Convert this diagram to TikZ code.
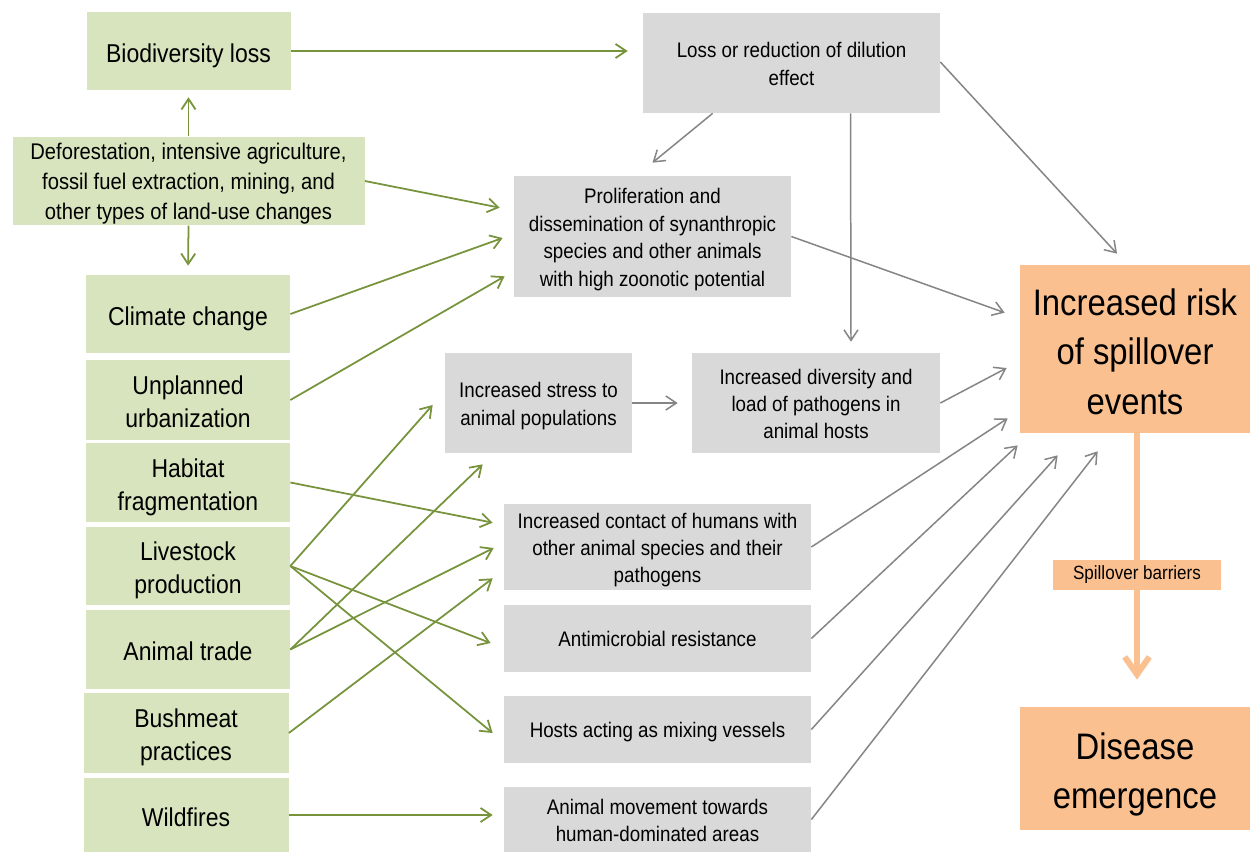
\documentclass[tikz,border=0pt]{standalone}
\usepackage{fontspec}
\setmainfont{Liberation Sans}[FakeStretch=0.89]
\usetikzlibrary{arrows.meta,calc}
\definecolor{gfill}{HTML}{D7E4BD}
\definecolor{gline}{HTML}{77933C}
\definecolor{kfill}{HTML}{D9D9D9}
\definecolor{kline}{HTML}{858585}
\definecolor{ofill}{HTML}{FAC090}
\newdimen\pxu \pxu=0.02cm
\def\sA{1.1em}\def\sD{0.27em}
\newcommand\fs{\rule{0pt}{\sA}}
\newcommand\ls{\rule[-\sD]{0pt}{\sD}}
\begin{document}
\begin{tikzpicture}[x=0.02cm,y=-0.02cm,
  gbox/.style={fill=gfill, inner sep=0pt, align=center, font=\fontsize{14.7}{18.8}\selectfont\def\sA{1.14em}\def\sD{0.27em}},
  dbox/.style={fill=gfill, inner sep=0pt, align=center, font=\fontsize{12.9}{16.9}\selectfont\def\sA{1.02em}\def\sD{0.27em}},
  kbox/.style={fill=kfill, inner sep=0pt, align=center, font=\fontsize{12}{15.6}\selectfont\def\sA{1.09em}\def\sD{0.29em}},
  obox/.style={fill=ofill, inner sep=0pt, align=center, font=\fontsize{21}{28}\selectfont\def\sA{1.1em}\def\sD{0.24em}},
  sbox/.style={fill=ofill, inner sep=0pt, align=center, font=\fontsize{10.9}{13}\selectfont},
  garr/.style={draw=gline, line width=1pt, -{Straight Barb[length=6pt,width=8pt]}},
  karr/.style={draw=kline, line width=0.85pt, -{Straight Barb[length=6pt,width=8pt]}},
  oarr/.style={draw=ofill, line width=3.4pt, -{Straight Barb[length=10pt,width=14pt]}}]
\fill[white] (0,0) rectangle (1250,852);
\useasboundingbox (0,0) rectangle (1250,852);
% green causes
\node[gbox, minimum width=204\pxu, minimum height=78\pxu] (bio) at (188.5,51) {\fs Biodiversity loss\ls};
\node[dbox, minimum width=352\pxu, minimum height=88\pxu] (defo) at (188.5,181) {\fs Deforestation, intensive agriculture,\\fossil fuel extraction, mining, and\\other types of land-use changes\ls};
\node[gbox, minimum width=204\pxu, minimum height=78\pxu] (clim) at (188,314) {\fs Climate change\ls};
\node[gbox, minimum width=204\pxu, minimum height=80\pxu] (urb) at (188,400) {\fs Unplanned\\urbanization\ls};
\node[gbox, minimum width=204\pxu, minimum height=79\pxu] (hab) at (188,482.5) {\fs Habitat\\fragmentation\ls};
\node[gbox, minimum width=204\pxu, minimum height=78\pxu] (live) at (188,566) {\fs Livestock\\production\ls};
\node[gbox, minimum width=204\pxu, minimum height=79\pxu] (trade) at (188,649.5) {\fs Animal trade\ls};
\node[gbox, minimum width=205\pxu, minimum height=80\pxu] (bush) at (186,733) {\fs Bushmeat\\practices\ls};
\node[gbox, minimum width=205\pxu, minimum height=74\pxu] (wild) at (186,815) {\fs Wildfires\ls};
% grey mechanisms
\node[kbox, minimum width=297\pxu, minimum height=100\pxu] (dil) at (791.5,63) {\fs Loss or reduction of dilution\\effect\ls};
\node[kbox, minimum width=277\pxu, minimum height=121\pxu] (prol) at (652.5,236.5) {\fs Proliferation and\\dissemination of synanthropic\\species and other animals\\with high zoonotic potential\ls};
\node[kbox, minimum width=187\pxu, minimum height=100\pxu] (stress) at (538.5,403) {\fs Increased stress to\\animal populations\ls};
\node[kbox, minimum width=248\pxu, minimum height=100\pxu] (div) at (816,403) {\fs Increased diversity and\\load of pathogens in\\animal hosts\ls};
\node[kbox, minimum width=307\pxu, minimum height=86\pxu] (contact) at (657.5,547) {\fs Increased contact of humans with\\other animal species and their\\pathogens\ls};
\node[kbox, minimum width=307\pxu, minimum height=67\pxu] (amr) at (657.5,638.5) {\fs Antimicrobial resistance\ls};
\node[kbox, minimum width=307\pxu, minimum height=67\pxu] (mix) at (657.5,729.5) {\fs Hosts acting as mixing vessels\ls};
\node[kbox, minimum width=307\pxu, minimum height=65\pxu] (move) at (657.5,819.5) {\fs Animal movement towards\\human-dominated areas\ls};
% orange outcomes
\node[obox, minimum width=230\pxu, minimum height=168\pxu] (risk) at (1135,349) {\fs Increased risk\\of spillover\\events\ls};
\node[obox, minimum width=230\pxu, minimum height=123\pxu] (dis) at (1135,768.5) {\fs Disease\\emergence\ls};
\draw[oarr, shorten >=27\pxu] ($(risk.south)+(2,0)$) -- ($(dis.north)+(2,0)$);
\node[sbox, minimum width=168\pxu, minimum height=30\pxu] (barrier) at (1137,575) {Spillover barriers};
% green arrows
\draw[garr, shorten >=15\pxu] (bio.east) -- (bio.east -| dil.west);
\draw[garr, shorten >=7\pxu] (defo.north) -- (bio.south);
\draw[garr, shorten >=9\pxu] (defo.south) -- (clim.north);
\draw[garr] (defo.east) -- ($(prol.north west)+(-14,32)$);
\draw[garr] (clim.east) -- ($(prol.west)+(-11,1.5)$);
\draw[garr] (urb.east) -- ($(prol.south west)+(-9,-21)$);
\draw[garr] (hab.east) -- ($(contact.north west)+(-11,19)$);
\draw[garr] (live.east) -- ($(stress.west)+(-12,2)$);
\draw[garr] (live.east) -- ($(amr.west)+(-13,4.5)$);
\draw[garr] (live.east) -- ($(mix.west)+(-11,3.5)$);
\draw[garr] (trade.east) -- ($(stress.south west)+(38,11)$);
\draw[garr] (trade.east) -- ($(contact.west)+(-10,1)$);
\draw[garr] (bush.east) -- ($(contact.south west)+(-11,-12)$);
\draw[garr] (wild.east) -- ($(wild.east -| move.west)+(-11,0)$);
% grey arrows
\draw[karr] ($(dil.south west)+(70,0)$) -- ($(prol.north)+(0,-13)$);
\draw[karr] ($(dil.south)+(59,0)$) -- ($(div.north)+(35,-11)$);
\draw[karr] ($(dil.east)+(0,-1)$) -- ($(risk.north)+(-18,-11)$);
\draw[karr] (prol.east) -- ($(risk.north west)+(-15,48)$);
\draw[karr, shorten >=14\pxu] (stress.east) -- (div.west);
\draw[karr] (div.east) -- ($(risk.west)+(-13,19)$);
\draw[karr] (contact.east) -- ($(risk.south west)+(-12,-15)$);
\draw[karr] (amr.east) -- ($(risk.south west)+(-2,12)$);
\draw[karr] (mix.east) -- ($(risk.south west)+(38,22)$);
\draw[karr] (move.east) -- ($(risk.south west)+(78,18)$);
\end{tikzpicture}
\end{document}
